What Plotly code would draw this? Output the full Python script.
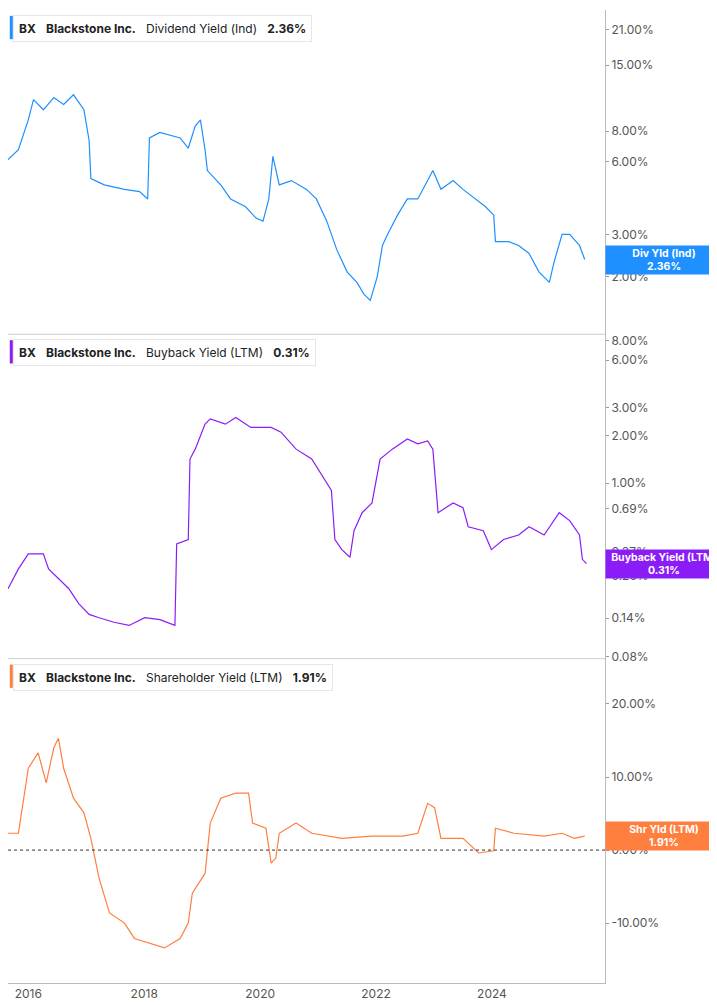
import math
import plotly.graph_objects as go

# decimal years / values
div_years = [2015.65, 2015.83, 2016.00, 2016.09, 2016.26, 2016.44, 2016.61, 2016.78, 2016.96, 2017.05,
             2017.08, 2017.31, 2017.66, 2017.92, 2018.06, 2018.09, 2018.27, 2018.62, 2018.76, 2018.88,
             2018.97, 2019.05, 2019.09, 2019.32, 2019.49, 2019.75, 2019.93, 2020.05, 2020.15, 2020.22,
             2020.33, 2020.54, 2020.80, 2020.97, 2021.15, 2021.32, 2021.50, 2021.67, 2021.79, 2021.90,
             2022.02, 2022.11, 2022.20, 2022.37, 2022.54, 2022.72, 2022.89, 2022.98, 2023.12, 2023.33,
             2023.50, 2023.71, 2023.89, 2024.03, 2024.06, 2024.29, 2024.46, 2024.64, 2024.81, 2024.99,
             2025.07, 2025.21, 2025.34, 2025.51, 2025.60]
div_yield = [6.1, 6.7, 8.9, 10.8, 9.8, 11.0, 10.3, 11.3, 9.8, 7.3,
             5.1, 4.8, 4.6, 4.5, 4.2, 7.5, 7.9, 7.5, 6.8, 8.4,
             8.9, 6.7, 5.5, 4.8, 4.2, 3.9, 3.5, 3.4, 4.2, 6.3,
             4.8, 5.0, 4.6, 4.2, 3.4, 2.6, 2.1, 1.9, 1.7, 1.6,
             2.0, 2.7, 3.0, 3.6, 4.2, 4.2, 5.0, 5.5, 4.6, 5.0,
             4.6, 4.2, 3.9, 3.6, 2.8, 2.8, 2.7, 2.5, 2.1, 1.9,
             2.3, 3.0, 3.0, 2.7, 2.36]

bb_years = [2015.65, 2015.83, 2016.00, 2016.26, 2016.35, 2016.52, 2016.70, 2016.87, 2017.05, 2017.22,
            2017.48, 2017.74, 2018.01, 2018.27, 2018.53, 2018.56, 2018.76, 2018.79, 2018.88, 2019.05,
            2019.14, 2019.40, 2019.58, 2019.84, 2020.19, 2020.36, 2020.62, 2020.89, 2021.06, 2021.23,
            2021.29, 2021.41, 2021.55, 2021.62, 2021.76, 2021.93, 2022.07, 2022.28, 2022.54, 2022.72,
            2022.89, 2022.98, 2023.07, 2023.33, 2023.50, 2023.59, 2023.85, 2023.99, 2024.20, 2024.46,
            2024.64, 2024.90, 2025.16, 2025.34, 2025.51, 2025.56, 2025.63]
bb_yield = [0.215, 0.287, 0.357, 0.357, 0.287, 0.25, 0.215, 0.173, 0.148, 0.141,
            0.132, 0.126, 0.141, 0.137, 0.126, 0.413, 0.44, 1.42, 1.64, 2.36,
            2.55, 2.36, 2.6, 2.25, 2.25, 2.1, 1.64, 1.42, 1.14, 0.90,
            0.44, 0.38, 0.34, 0.50, 0.65, 0.75, 1.42, 1.64, 1.9, 1.77,
            1.85, 1.64, 0.65, 0.75, 0.70, 0.53, 0.50, 0.38, 0.44, 0.47,
            0.53, 0.47, 0.65, 0.58, 0.47, 0.33, 0.31]

sh_years = [2015.65, 2015.83, 2016.00, 2016.17, 2016.31, 2016.44, 2016.52, 2016.61, 2016.78, 2016.96,
            2017.08, 2017.22, 2017.40, 2017.66, 2017.83, 2018.09, 2018.35, 2018.62, 2018.76, 2018.83,
            2019.05, 2019.14, 2019.32, 2019.58, 2019.80, 2019.87, 2020.10, 2020.19, 2020.27, 2020.33,
            2020.62, 2020.89, 2021.41, 2021.93, 2022.46, 2022.72, 2022.89, 2023.01, 2023.12, 2023.50,
            2023.68, 2023.77, 2024.03, 2024.06, 2024.38, 2024.90, 2025.21, 2025.42, 2025.60]
sh_yield = [2.3, 2.3, 11.2, 13.3, 9.2, 14.0, 15.3, 11.2, 7.1, 5.1,
            1.6, -3.8, -8.6, -10.0, -12.1, -12.7, -13.4, -12.1, -10.0, -5.9,
            -3.2, 3.7, 7.1, 7.8, 7.8, 3.7, 3.0, -1.8, -1.1, 2.3,
            3.7, 2.3, 1.6, 1.9, 1.9, 2.3, 6.4, 5.8, 1.6, 1.6,
            0.3, -0.4, -0.1, 3.0, 2.3, 1.9, 2.3, 1.6, 1.91]

div_ticks = [2, 3, 6, 8, 15, 21]
bb_ticks = [0.08, 0.14, 0.26, 0.37, 0.69, 1, 2, 3, 6, 8]
sh_ticks = [-10, 0, 10, 20]
year_ticks = [2016, 2018, 2020, 2022, 2024]

BLUE = "#1e90ff"
PURPLE = "#8b1cf7"
ORANGE = "#ff7f3f"
FONT = "Inter"

fig = go.Figure()
fig.add_trace(go.Scatter(x=div_years, y=div_yield, mode="lines", line=dict(color=BLUE, width=1.2),
                         xaxis="x", yaxis="y"))
fig.add_trace(go.Scatter(x=bb_years, y=bb_yield, mode="lines", line=dict(color=PURPLE, width=1.2),
                         xaxis="x2", yaxis="y2"))
fig.add_trace(go.Scatter(x=sh_years, y=sh_yield, mode="lines", line=dict(color=ORANGE, width=1.2),
                         xaxis="x3", yaxis="y3"))

xr = [2015.65, 2025.95]
xcommon = dict(range=xr, showgrid=False, zeroline=False, tickvals=year_ticks)
yfont = dict(family=FONT, size=12, color="#555")
ycommon = dict(side="right", showgrid=False, zeroline=False, ticks="outside", ticklen=3,
               tickcolor="#999", tickfont=yfont, showline=True, linecolor="#bbb", mirror=False)

fig.update_layout(
    width=717, height=1005, margin=dict(l=0, r=120, t=0, b=30),
    plot_bgcolor="white", paper_bgcolor="white", showlegend=False,
    font=dict(family=FONT),
    xaxis=dict(**xcommon, anchor="y", showticklabels=False),
    xaxis2=dict(**xcommon, anchor="y2", showticklabels=False),
    xaxis3=dict(**xcommon, anchor="y3", showticklabels=True, tickfont=yfont,
                showline=True, linecolor="#bbb"),
    yaxis=dict(**ycommon, type="log", domain=[0.6667, 1], range=[math.log10(1.16), math.log10(25.3)],
               tickvals=div_ticks, ticktext=[f"{v:.2f}%" for v in div_ticks]),
    yaxis2=dict(**ycommon, type="log", domain=[0.3333, 0.6667], range=[-1.11, 0.941],
                tickvals=bb_ticks, ticktext=[f"{v:.2f}%" for v in bb_ticks]),
    yaxis3=dict(**ycommon, domain=[0, 0.3333], range=[-18.2, 26.2],
                tickvals=sh_ticks, ticktext=[f"{v:.2f}%" for v in sh_ticks]),
)

# panel separators and zero line
for yp in [0.3333, 0.6667]:
    fig.add_shape(type="line", xref="paper", yref="paper", x0=0, x1=1, y0=yp, y1=yp,
                  line=dict(color="#ccc", width=1))
fig.add_shape(type="line", xref="paper", yref="y3", x0=0, x1=1, y0=0, y1=0,
              line=dict(color="#333", width=1, dash="dot"))

panels = [
    ("y", "Dividend Yield (Ind)", div_yield[-1], BLUE, "Div Yld (Ind)", True, 1.0),
    ("y2", "Buyback Yield (LTM)", bb_yield[-1], PURPLE, "Buyback Yield (LTM)", True, 0.6667),
    ("y3", "Shareholder Yield (LTM)", sh_yield[-1], ORANGE, "Shr Yld (LTM)", False, 0.3333),
]
for yref, label, last, color, tag, is_log, top in panels:
    # legend box top-left
    fig.add_annotation(xref="paper", yref="paper", x=0.008, y=top - 0.005, xanchor="left", yanchor="top",
                       text=f"<b>BX</b>   <b>Blackstone Inc.</b>   {label}   <b>{last:.2f}%</b>",
                       showarrow=False, font=dict(family=FONT, size=12, color="#222"),
                       bgcolor="white", bordercolor="#e6e6e6", borderwidth=1, borderpad=5)
    fig.add_shape(type="rect", xref="paper", yref="paper", x0=0.003, x1=0.008,
                  y0=top - 0.03, y1=top - 0.006, fillcolor=color, line_width=0)
    # value tag on the right
    fig.add_annotation(xref="paper", yref=yref, x=1.0, y=math.log10(last) if is_log else last,
                       xanchor="left", yanchor="middle", showarrow=False,
                       text=f"<b>{tag}<br>{last:.2f}%</b>", width=112, height=24,
                       font=dict(family=FONT, size=10.5, color="white"),
                       bgcolor=color, borderpad=2, align="center")

fig.write_html("out.html")
